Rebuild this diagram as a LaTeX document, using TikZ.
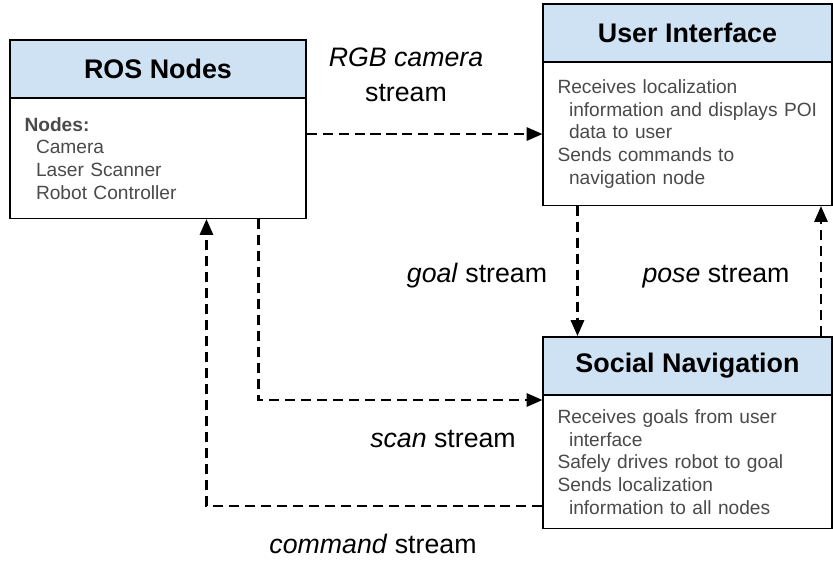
\documentclass[tikz,border=0pt]{standalone}
\usepackage{fontspec}
\setmainfont{Liberation Sans}
\usepackage{tikz}
\usetikzlibrary{calc}
\usetikzlibrary{arrows.meta}
\definecolor{hdrblue}{HTML}{CFE2F3}
\definecolor{bodygray}{HTML}{4A4A4A}
\tikzstyle{hdr} = [draw=black, line width=1.1pt, fill=hdrblue, minimum height=1.16cm, inner sep=0pt, font=\fontsize{15.3}{18}\selectfont\bfseries]
\tikzstyle{body} = [draw=black, line width=0.6pt, fill=white, anchor=north, inner xsep=0.29cm, inner ysep=0pt, align=left, text=bodygray, font=\fontsize{10.9}{13}\selectfont]
\tikzstyle{flow} = [line width=1.3pt, dash pattern=on 5.7pt off 3.4pt, -{Triangle[length=9pt,width=7.5pt]}]
\tikzstyle{lbl} = [font=\fontsize{15.2}{20}\selectfont, inner sep=0pt]
\newcommand{\ind}{\hspace*{0.23cm}}

\begin{document}
\begin{tikzpicture}
    \useasboundingbox (0,0) rectangle (16.66,-11.22);

    % ROS nodes
    \node[body, text width=5.34cm, minimum width=5.92cm, minimum height=2.4cm] (rosbody) at (3.16,-1.96)
        {\textbf{Nodes:}\\ \ind Camera\\ \ind Laser Scanner\\ \ind Robot Controller};
    \node[hdr, minimum width=5.92cm] (roshdr) at (3.16,-1.38) {ROS Nodes};

    % User interface
    \node[body, text width=5.2cm, minimum width=5.78cm, minimum height=2.86cm] (uibody) at (13.75,-1.24)
        {Receives localization\\ \ind information and displays POI\\ \ind data to user\\ Sends commands to\\ \ind navigation node};
    \node[hdr, minimum width=5.78cm] (uihdr) at (13.75,-0.66) {User Interface};

    % Social navigation
    \node[body, text width=5.2cm, minimum width=5.78cm, minimum height=2.66cm] (snbody) at (13.75,-7.90)
        {Receives goals from user\\ \ind interface\\ Safely drives robot to goal\\ Sends localization\\ \ind information to all nodes};
    \node[hdr, minimum width=5.78cm] (snhdr) at (13.75,-7.32) {Social Navigation};

    % streams
    \coordinate (goaltop) at ($(uibody.south west)+(0.7,0)$);
    \coordinate (posebot) at ($(snhdr.north east)+(-0.24,0)$);
    \coordinate (scanstart) at ($(rosbody.south west)+(4.98,0)$);
    \coordinate (scanend) at ($(snbody.north west)+(0,-0.1)$);
    \coordinate (cmdstart) at ($(snbody.south west)+(0,0.46)$);
    \coordinate (cmdend) at ($(rosbody.south west)+(3.94,0)$);

    \draw[flow] (rosbody.east |- uibody.west) to (uibody.west);
    \draw[flow] (goaltop) to (goaltop |- snhdr.north);
    \draw[flow] (posebot) to (posebot |- uibody.south);
    \draw[flow] (scanstart) |- (scanend);
    \draw[flow] (cmdstart) -| (cmdend);

    \node[lbl, anchor=north, align=center] (rgblbl) at (8.12,-0.94) {\textit{RGB camera}\\stream};
    \node[lbl, anchor=base] (goallbl) at (9.54,-5.64) {\textit{goal} stream};
    \node[lbl, anchor=base] (poselbl) at (14.32,-5.64) {\textit{pose} stream};
    \node[lbl, anchor=base] (scanlbl) at (8.86,-8.94) {\textit{scan} stream};
    \node[lbl, anchor=base] (cmdlbl) at (7.46,-11.06) {\textit{command} stream};
\end{tikzpicture}
\end{document}
